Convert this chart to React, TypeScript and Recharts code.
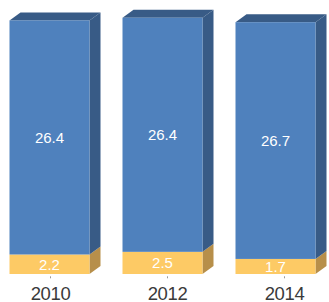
import React from "react";
import { BarChart, Bar, XAxis, YAxis, LabelList } from "recharts";

const categories = ["2010", "2012", "2014"];
const bottomValues = [2.2, 2.5, 1.7];
const topValues = [26.4, 26.4, 26.7];

const data = categories.map((c, i) => ({
  year: c,
  bottom: bottomValues[i],
  top: topValues[i],
}));

const DX = 11;
const DY = 8;

const makeShape = (front: string, side: string, drawTop: boolean) => (props: any) => {
  const { x, y, width, height } = props;
  if (width == null || height == null) return null;
  const yT = y;
  const yB = y + height;
  const xr = x + width;
  return (
    <g>
      <polygon
        points={`${xr},${yT} ${xr + DX},${yT - DY} ${xr + DX},${yB - DY} ${xr},${yB}`}
        fill={side}
      />
      {drawTop && (
        <polygon
          points={`${x},${yT} ${xr},${yT} ${xr + DX},${yT - DY} ${x + DX},${yT - DY}`}
          fill={side}
        />
      )}
      <rect x={x} y={yT} width={width} height={height} fill={front} />
    </g>
  );
};

const YearTick = (props: any) => {
  const { x, y, payload } = props;
  return (
    <g>
      <line x1={x} y1={y + 2.3} x2={x} y2={y + 4.3} stroke="#9a9a9a" strokeWidth={1} />
      <text
        x={x}
        y={y + 25.7}
        textAnchor="middle"
        fill="#3a3a3a"
        fontSize={18.5}
        fontFamily="'Liberation Sans', Arial, sans-serif"
        letterSpacing={-0.4}
      >
        {payload.value}
      </text>
    </g>
  );
};

export default function App() {
  return (
    <div style={{ position: "absolute", left: -8, top: 0 }}>
      <BarChart
        width={351}
        height={302}
        data={data}
        margin={{ top: 8, right: 0, bottom: 0, left: 0 }}
      >
        <XAxis
          xAxisId="labels"
          dataKey="year"
          height={28}
          axisLine={false}
          tickLine={false}
          tickSize={0}
          tickMargin={0}
          interval={0}
          tick={<YearTick />}
        />
        <XAxis
          xAxisId="bars"
          dataKey="year"
          hide
          height={0}
          padding={{ left: 0.5, right: 11.5 }}
        />
        <YAxis hide domain={[0, 30]} />
        <Bar
          xAxisId="bars"
          dataKey="bottom"
          stackId="a"
          barSize={80}
          isAnimationActive={false}
          shape={makeShape("#FDCA65", "#B78F4A", false)}
        >
          <LabelList
            dataKey="bottom"
            position="center"
            fill="#ffffff"
            fontSize={15}
            fontFamily="'Liberation Sans', Arial, sans-serif"
          />
        </Bar>
        <Bar
          xAxisId="bars"
          dataKey="top"
          stackId="a"
          barSize={80}
          isAnimationActive={false}
          shape={makeShape("#4F81BD", "#385B86", true)}
        >
          <LabelList
            dataKey="top"
            position="center"
            fill="#ffffff"
            fontSize={15}
            fontFamily="'Liberation Sans', Arial, sans-serif"
          />
        </Bar>
      </BarChart>
    </div>
  );
}
